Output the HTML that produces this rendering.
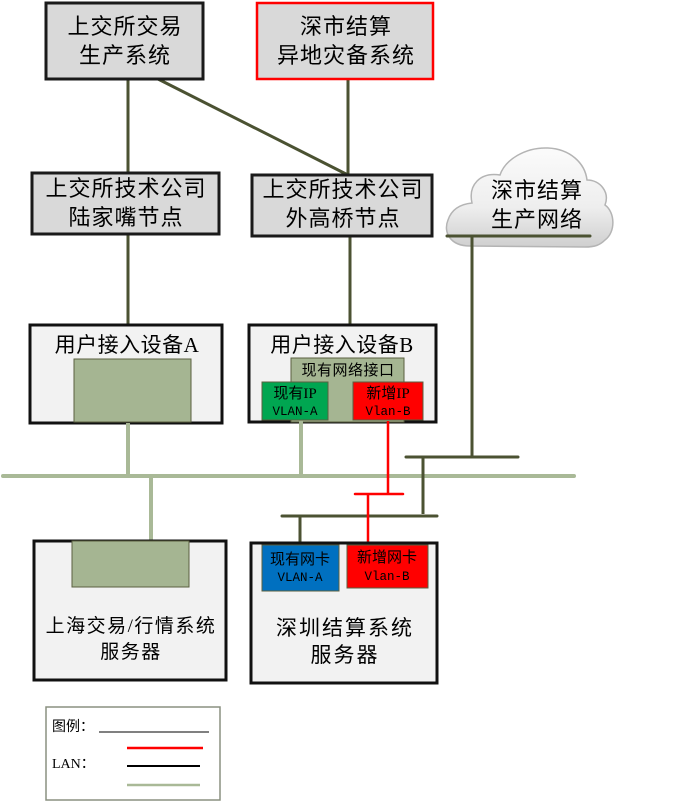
<!DOCTYPE html>
<html>
<head>
<meta charset="utf-8">
<style>
html,body{margin:0;padding:0;background:#fff;}
svg{display:block;}
text{font-family:"Liberation Serif","Noto Sans CJK SC",serif;fill:#000;}
.m{font-family:"Liberation Mono","Noto Sans CJK SC",monospace;}
</style>
</head>
<body>
<svg width="678" height="802" viewBox="0 0 678 802" xmlns="http://www.w3.org/2000/svg">
<defs>
<linearGradient id="cg" x1="0" y1="0" x2="0" y2="1">
<stop offset="0" stop-color="#fbfbfb"/>
<stop offset="0.6" stop-color="#eeeeee"/>
<stop offset="1" stop-color="#cfcfcf"/>
</linearGradient>
</defs>

<!-- connectors top -->
<g stroke="#4b5232" stroke-width="3" fill="none">
<line x1="128" y1="79" x2="128" y2="173"/>
<line x1="158" y1="79" x2="348" y2="175"/>
<line x1="348" y1="79" x2="348" y2="175"/>
<line x1="128" y1="234" x2="128" y2="325"/>
<line x1="350" y1="236" x2="350" y2="325"/>
</g>

<!-- top boxes -->
<rect x="46" y="3" width="157" height="76" fill="#d9d9d9" stroke="#1a1a1a" stroke-width="3"/>
<text x="125" y="34" font-size="22" text-anchor="middle" letter-spacing="1">上交所交易</text>
<text x="125" y="63" font-size="22" text-anchor="middle" letter-spacing="1">生产系统</text>

<rect x="257" y="3" width="176" height="76" fill="#d9d9d9" stroke="#ff0000" stroke-width="2.5"/>
<text x="346" y="34" font-size="22" text-anchor="middle" letter-spacing="1">深市结算</text>
<text x="346" y="63" font-size="22" text-anchor="middle" letter-spacing="1">异地灾备系统</text>

<!-- row 2 -->
<rect x="32" y="173" width="187" height="61" fill="#d9d9d9" stroke="#1a1a1a" stroke-width="3"/>
<text x="126" y="196" font-size="22" text-anchor="middle" letter-spacing="1">上交所技术公司</text>
<text x="126" y="225" font-size="22" text-anchor="middle" letter-spacing="1">陆家嘴节点</text>

<rect x="252" y="175" width="180" height="61" fill="#d9d9d9" stroke="#1a1a1a" stroke-width="3"/>
<text x="343" y="197" font-size="22" text-anchor="middle" letter-spacing="1">上交所技术公司</text>
<text x="343" y="226" font-size="22" text-anchor="middle" letter-spacing="1">外高桥节点</text>

<!-- cloud -->
<path d="M470,246 C450,246 443,232 448,220 C452,208 462,204 472,203 C468,185 480,172 500,175 C505,160 525,147 548,148 C570,149 585,163 587,180 C600,180 610,192 605,205 C615,212 616,232 605,240 C600,245 595,247 585,247 Z" fill="url(#cg)" stroke="#b4b4b4" stroke-width="1.5"/>
<text x="537" y="198" font-size="22" text-anchor="middle" letter-spacing="1">深市结算</text>
<text x="537" y="227" font-size="22" text-anchor="middle" letter-spacing="1">生产网络</text>

<!-- row 3: user access A -->
<rect x="30" y="325" width="192" height="98" fill="#f2f2f2" stroke="#111" stroke-width="3"/>
<text x="127" y="352" font-size="21" text-anchor="middle" letter-spacing="0.5">用户接入设备A</text>
<rect x="74" y="359" width="117" height="63" fill="#a5b592" stroke="#5a6040" stroke-width="1"/>

<!-- row 3: user access B -->
<rect x="249" y="325" width="187" height="97" fill="#f2f2f2" stroke="#111" stroke-width="3"/>
<text x="342" y="352" font-size="21" text-anchor="middle" letter-spacing="0.5">用户接入设备B</text>
<rect x="291" y="358" width="113" height="64" fill="#a5b592" stroke="#5a6040" stroke-width="1"/>
<text x="348" y="375" font-size="15" text-anchor="middle" letter-spacing="0.5">现有网络接口</text>
<rect x="262" y="382" width="66" height="38" fill="#00a651" stroke="#5a6040" stroke-width="1"/>
<text x="295" y="398" font-size="15" text-anchor="middle">现有IP</text>
<text x="295" y="415" font-size="12.5" text-anchor="middle" class="m">VLAN-A</text>
<rect x="353" y="382" width="70" height="38" fill="#ff0000" stroke="#5a6040" stroke-width="1"/>
<text x="388" y="398" font-size="15" text-anchor="middle">新增IP</text>
<text x="388" y="415" font-size="12.5" text-anchor="middle" class="m">Vlan-B</text>

<!-- green LAN -->
<g stroke="#a9b997" stroke-width="4" stroke-linecap="round" fill="none">
<line x1="3" y1="476" x2="574" y2="476"/>
<line x1="128" y1="423" x2="128" y2="476" stroke-linecap="butt"/>
<line x1="301" y1="421" x2="301" y2="476" stroke-linecap="butt"/>
<line x1="151" y1="476" x2="151" y2="541" stroke-linecap="butt"/>
</g>

<!-- dark LAN -->
<g stroke="#4b5232" stroke-width="3" fill="none" stroke-linecap="round">
<line x1="447" y1="236" x2="590" y2="236"/>
<line x1="472" y1="236" x2="472" y2="457" stroke-linecap="butt"/>
<line x1="406" y1="457" x2="518" y2="457"/>
<line x1="423" y1="457" x2="423" y2="514" stroke-linecap="butt"/>
<line x1="282" y1="516" x2="437" y2="516"/>
<line x1="300" y1="516" x2="300" y2="545" stroke-linecap="butt"/>
</g>

<!-- red LAN -->
<g stroke="#ff0000" stroke-width="2.5" fill="none">
<line x1="388" y1="421" x2="388" y2="494"/>
<line x1="355" y1="494" x2="403" y2="494" stroke-linecap="round"/>
<line x1="368" y1="494" x2="368" y2="545"/>
</g>

<!-- server A -->
<rect x="34" y="541" width="192" height="139" fill="#f2f2f2" stroke="#111" stroke-width="3"/>
<rect x="72" y="541" width="117" height="46" fill="#a5b592" stroke="#5a6040" stroke-width="1"/>
<text x="131" y="632" font-size="19" text-anchor="middle" letter-spacing="1.5">上海交易/行情系统</text>
<text x="131" y="658" font-size="19" text-anchor="middle" letter-spacing="1.5">服务器</text>

<!-- server B -->
<rect x="251" y="543" width="186" height="140" fill="#f2f2f2" stroke="#111" stroke-width="3"/>
<rect x="262" y="545" width="77" height="46" fill="#0070c0" stroke="#5a6040" stroke-width="1"/>
<text x="300" y="564" font-size="15" text-anchor="middle">现有网卡</text>
<text x="300" y="581" font-size="12.5" text-anchor="middle" class="m">VLAN-A</text>
<rect x="347" y="545" width="81" height="43" fill="#ff0000" stroke="#5a6040" stroke-width="1"/>
<text x="387" y="562" font-size="15" text-anchor="middle">新增网卡</text>
<text x="387" y="580" font-size="12.5" text-anchor="middle" class="m">Vlan-B</text>
<text x="345" y="635" font-size="21" text-anchor="middle" letter-spacing="2">深圳结算系统</text>
<text x="345" y="662" font-size="21" text-anchor="middle" letter-spacing="2">服务器</text>

<!-- legend -->
<rect x="46" y="707" width="174" height="93" fill="#fff" stroke="#8a9080" stroke-width="1.5"/>
<text x="52" y="731" font-size="14">图例：</text>
<line x1="99" y1="732" x2="209" y2="732" stroke="#000" stroke-width="1"/>
<line x1="127" y1="748" x2="203" y2="748" stroke="#ff0000" stroke-width="2.5"/>
<text x="52" y="768" font-size="14">LAN：</text>
<line x1="127" y1="766" x2="200" y2="766" stroke="#000" stroke-width="2"/>
<line x1="127" y1="785" x2="200" y2="785" stroke="#a9b997" stroke-width="2.5"/>
</svg>
</body>
</html>
